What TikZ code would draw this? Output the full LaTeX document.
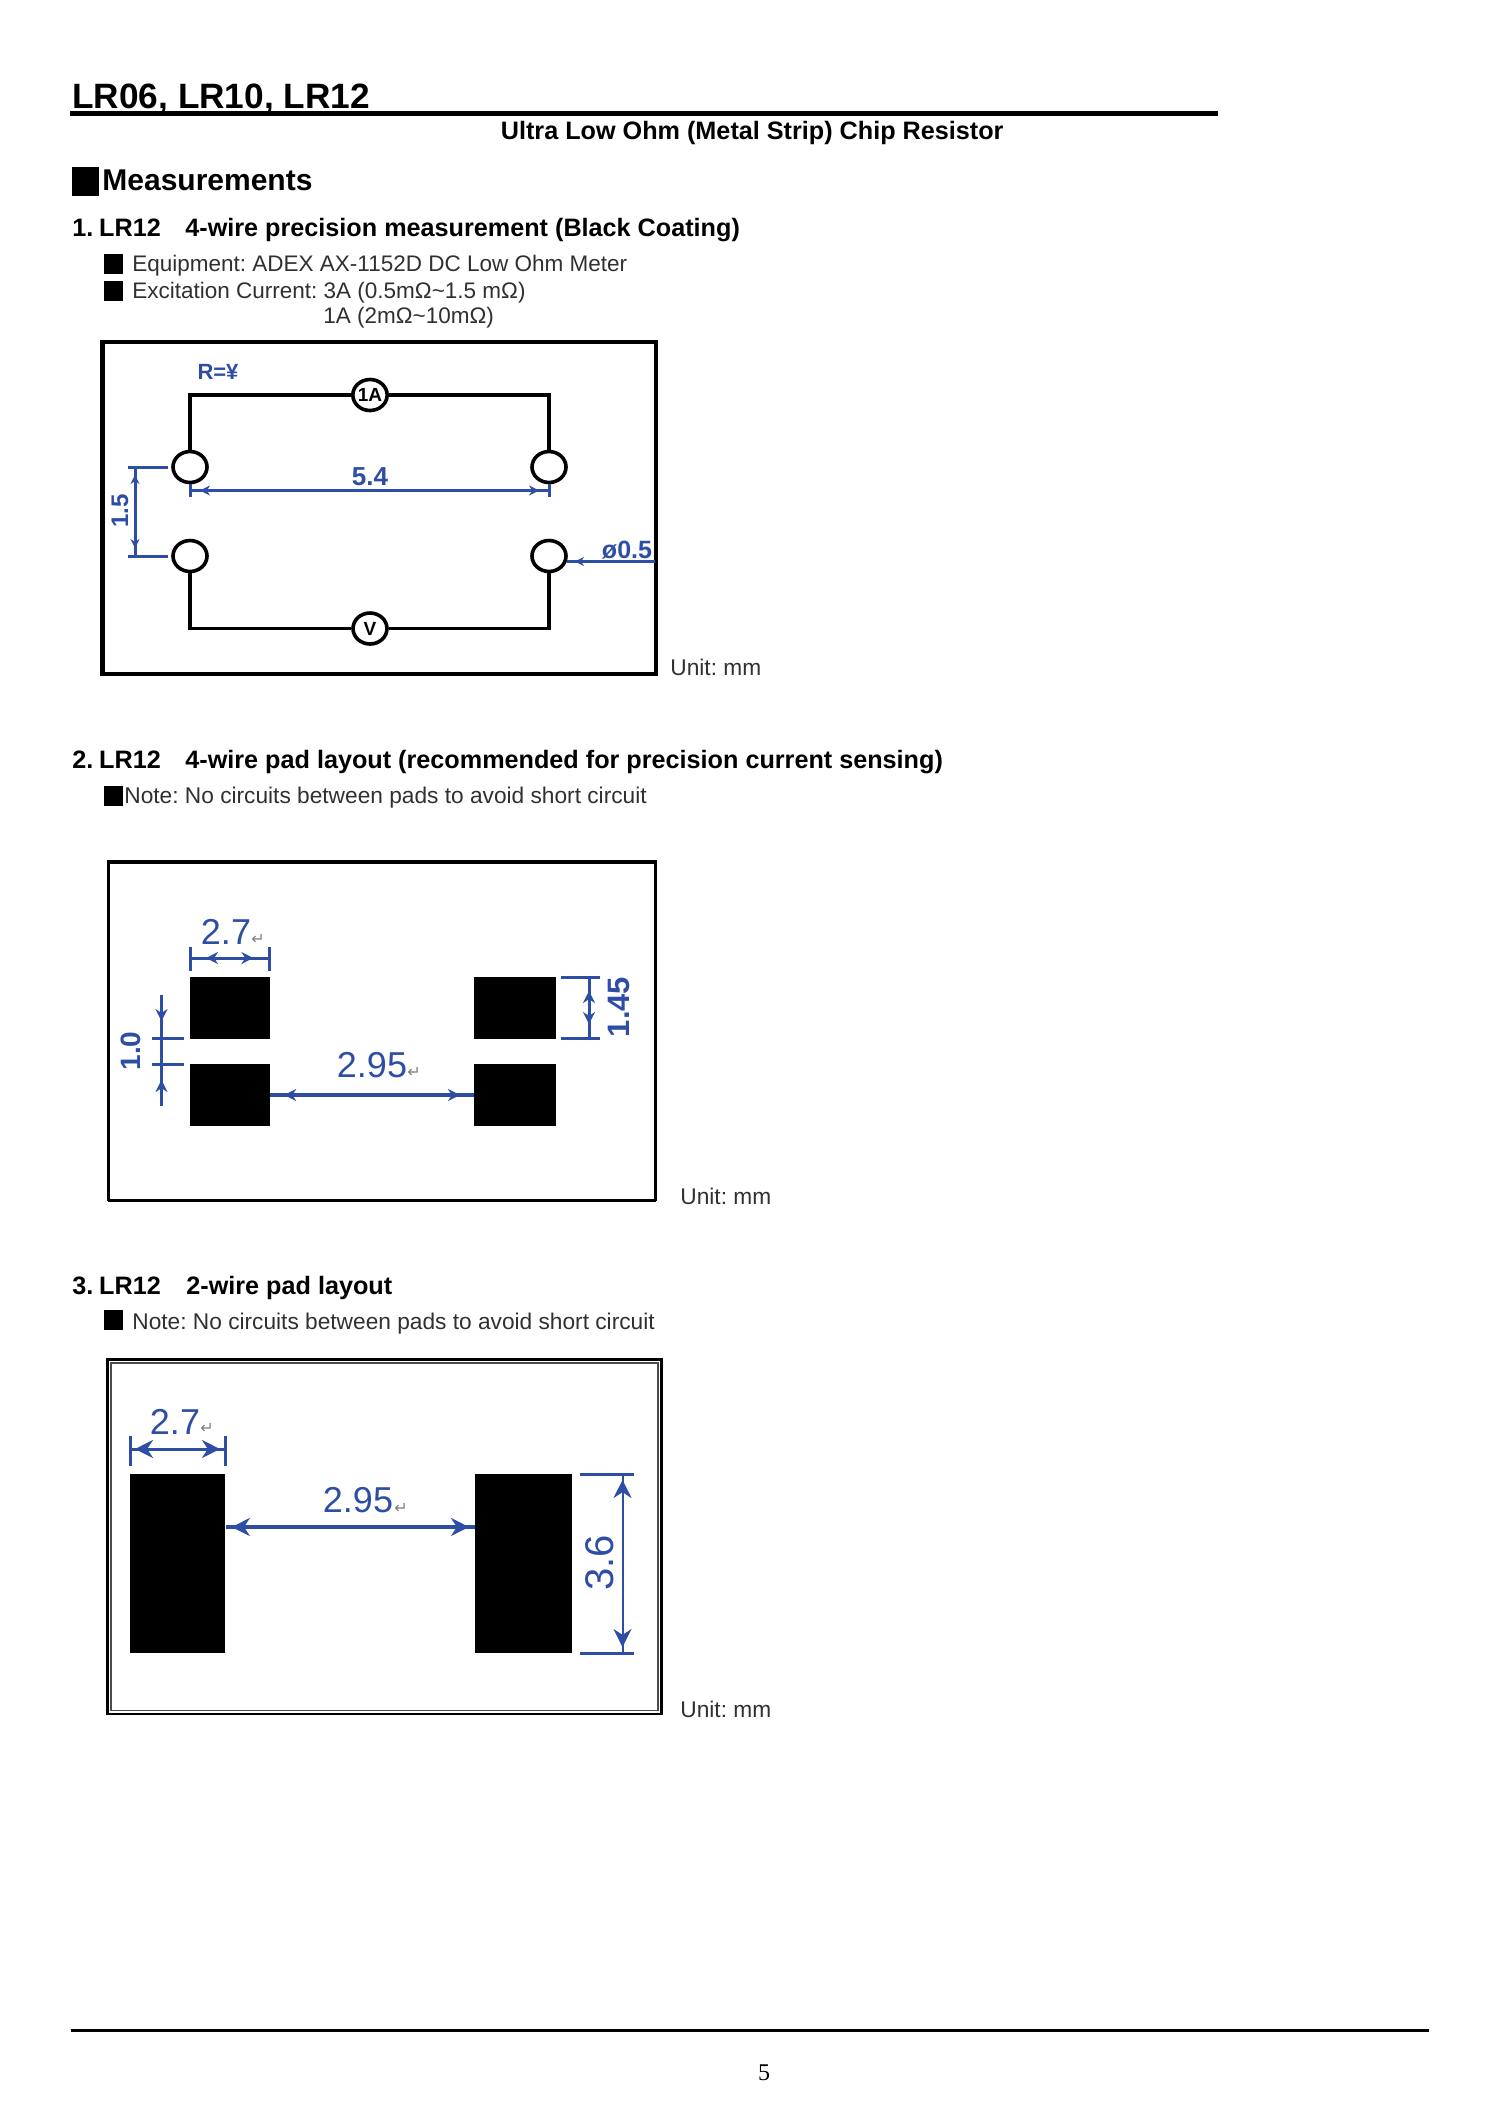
\documentclass[tikz,border=0pt]{standalone}
\usepackage{fontspec}
\setmainfont{Liberation Sans}
\newfontfamily\pagefont{Liberation Serif}
\newfontfamily\retfont{DejaVu Sans}
\usetikzlibrary{arrows.meta,shapes.geometric,decorations.markings}
\definecolor{dimblue}{HTML}{2E4EA6}
\definecolor{bodygray}{HTML}{303030}
\def\fsz#1{\fontsize{#1}{#1}\selectfont}
\frenchspacing
\tikzset{
  txt/.style={inner sep=0pt,anchor=base west},
  body/.style={txt,text=bodygray,font=\fsz{11.25pt}},
  notetxt/.style={body,font=\fsz{11.35pt}},
  unittxt/.style={body,font=\fsz{11.35pt}},
  head/.style={txt,text=black,font=\fsz{12.6pt}\bfseries},
  bullet/.style={fill=black,inner sep=0pt,anchor=north west,minimum width=9.5pt,minimum height=9.7pt},
  pad/.style={fill=black,inner sep=0pt,anchor=north west},
  wire/.style={line width=1.8pt,black},
  port/.style={ellipse,draw=black,line width=1.8pt,fill=white,inner sep=0pt,minimum width=17pt,minimum height=15.5pt},
  meter/.style={port,font=\fsz{9.5pt}\bfseries},
  dimln/.style={line width=1.5pt,dimblue},
  dimbold/.style={text=dimblue,inner sep=0pt,font=\fsz{#1}\bfseries},
  dimthin/.style={text=dimblue,inner sep=0pt,font=\fsz{#1}},
  retmark/.style={text=gray,inner sep=0pt,font=\retfont\fsz{8pt}},
  tipout/.style 2 args={postaction={decorate,decoration={markings,
    mark=at position #1 with {\arrowreversed{Stealth[length=#2,width=#2]}},
    mark=at position -#1 with {\arrow{Stealth[length=#2,width=#2]}}}}},
  tipin/.style 2 args={postaction={decorate,decoration={markings,
    mark=at position #1 with {\arrow{Stealth[length=#2,width=#2]}},
    mark=at position -#1 with {\arrowreversed{Stealth[length=#2,width=#2]}}}}},
}
\begin{document}
\begin{tikzpicture}[x=0.5pt,y=-0.5pt]
  \useasboundingbox[fill=white] (0,0) rectangle (1500,2122);
  % page head
  \node[txt,font=\fsz{17.6pt}\bfseries] (title) at (72,108) {LR06, LR10, LR12};
  \draw[line width=2.5pt] (70,113)--(1218,113);
  \node[head] (subtitle) at (500.5,139.5) {Ultra Low Ohm (Metal Strip) Chip Resistor};
  \node[bullet,minimum width=13.5pt,minimum height=14.7pt] (msq) at (71.5,166.5) {};
  \node[txt,font=\fsz{15pt}\bfseries] (meas) at (102,190.5) {Measurements};
  % 1. four wire measurement
  \node[head] (sec1) at (72,236) {1.\hspace{-.6pt} LR12};
  \node[head] (sec1t) at (185,236) {4-wire precision measurement (Black Coating)};
  \node[bullet] (b1) at (104,254) {};
  \node[body] (b1t) at (132,271) {Equipment: ADEX AX-1152D DC Low Ohm Meter};
  \node[bullet] (b2) at (104,281) {};
  \node[body] (b2t) at (132,298) {Excitation Current: 3A (0.5mΩ\textasciitilde1.5 mΩ)};
  \node[body] (b3t) at (323,323) {1A (2mΩ\textasciitilde10mΩ)};
  \draw[line width=2.4pt] (102.5,342) rectangle (656,674);
  \node[port] (tl) at (190,467) {};
  \node[port] (tr) at (549,467) {};
  \node[port] (bl) at (190,556) {};
  \node[port] (br) at (549,556) {};
  \node[meter] (amp) at (370,395) {1A};
  \node[meter] (volt) at (370,628.5) {V};
  \draw[wire] (tl.north) |- (amp.west) (amp.east) -| (tr.north);
  \draw[wire] (bl.south) |- (volt.west) (volt.east) -| (br.south);
  \node[dimbold=11pt] (rval) at (218,372) {R=¥};
  \node[dimbold=13pt] (w54) at (370,477) {5.4};
  \node[dimbold=12pt,rotate=90] (h15) at (120,511) {1.5};
  \node[dimbold=12.5pt] (dia) at (627,550.5) {ø0.5};
  \coordinate (a54) at (190,490.5);
  \coordinate (b54) at (549,490.5);
  \coordinate (a15) at (135,467);
  \coordinate (b15) at (135,556);
  \coordinate (a05) at (567,561.5);
  \coordinate (b05) at (655,561.5);
  \draw[dimln,tipout={5pt}{5pt}] (a54)--(b54);
  \draw[dimln] (a54)++(0,-6.5)--+(0,13) (b54)++(0,-6.5)--+(0,13);
  \draw[dimln,tipout={4pt}{4.5pt}] (a15)--(b15);
  \draw[dimln] (127.5,467)--(168,467) (127.5,556)--(168,556);
  \draw[dimln] (a05)--(b05);
  \draw[dimblue,-{Stealth[length=4.5pt,width=4.5pt]},line width=1.5pt] (583,561.5)--(575,561.5);
  \node[unittxt] (unit1) at (670,675) {Unit: mm};
  % 2. four wire pads
  \node[head] (sec2) at (72,768) {2.\hspace{-.6pt} LR12};
  \node[head] (sec2t) at (185,768) {4-wire pad layout (recommended for precision current sensing)};
  \node[bullet,minimum height=9.8pt] (b4) at (104,786) {};
  \node[notetxt] (b4t) at (124,803) {Note: No circuits between pads to avoid short circuit};
  \draw[line width=1.5pt] (108,862)--(108,1200.5) (108,1200.5)--(655.5,1200.5) (655.5,1200.5)--(655.5,862);
  \draw[line width=2pt] (107,862)--(656.5,862);
  \node[pad,minimum width=39.7pt,minimum height=30.6pt] (p1) at (190,977) {};
  \node[pad,minimum width=41pt,minimum height=30.6pt] (p2) at (474,977) {};
  \node[pad,minimum width=39.7pt,minimum height=30.6pt] (p3) at (190,1064) {};
  \node[pad,minimum width=41pt,minimum height=30.6pt] (p4) at (474,1064) {};
  \node[dimthin=18pt] (w27) at (226,932) {2.7};
  \node[retmark] (r27) at (258,939) {↵};
  \node[dimthin=18pt] (w295) at (372,1065) {2.95};
  \node[retmark] (r295) at (414,1072) {↵};
  \node[dimbold=14pt,rotate=90] (h10) at (131,1051) {1.0};
  \node[dimbold=15.5pt,rotate=90] (h145) at (619,1007) {1.45};
  \coordinate (a27) at (190,958);
  \coordinate (b27) at (269.4,958);
  \coordinate (a10) at (161.5,995);
  \coordinate (b10) at (161.5,1106);
  \coordinate (a145) at (589,977);
  \coordinate (b145) at (589,1038);
  \draw[dimln,tipout={8pt}{6pt}] (a27)--(b27);
  \draw[dimln] (a27)++(0,-11)--+(0,24) (b27)++(0,-11)--+(0,24);
  \draw[dimln,tipin={13pt}{6pt}] (a10)--(b10);
  \draw[dimln] (152,1038)--(184,1038) (152,1064)--(184,1064);
  \draw[dimln,line width=1.8pt,tipout={7pt}{6pt}] (p3.east)--(p4.west);
  \draw[dimln,tipout={7pt}{6pt}] (a145)--(b145);
  \draw[dimln] (561,977)--(599.5,977) (561,1038)--(599.5,1038);
  \node[unittxt] (unit2) at (680,1204) {Unit: mm};
  % 3. two wire pads
  \node[head] (sec3) at (72,1294) {3.\hspace{-.6pt} LR12};
  \node[head] (sec3t) at (186,1294) {2-wire pad layout};
  \node[bullet] (b5) at (104,1310) {};
  \node[notetxt] (b5t) at (132,1329) {Note: No circuits between pads to avoid short circuit};
  \draw[line width=1.1pt] (107.5,1359.5) rectangle (661.5,1714);
  \draw[line width=0.7pt,black!70] (111,1363) rectangle (658,1710.5);
  \node[pad,minimum width=47.5pt,minimum height=89.5pt] (p5) at (130,1474) {};
  \node[pad,minimum width=48.5pt,minimum height=89.5pt] (p6) at (475,1474) {};
  \node[dimthin=18pt] (w27b) at (175,1422) {2.7};
  \node[retmark] (r27b) at (207,1428) {↵};
  \node[dimthin=18pt] (w295b) at (358,1500) {2.95};
  \node[retmark] (r295b) at (401,1508) {↵};
  \node[dimthin=20pt,rotate=90] (h36) at (600,1563) {3.6};
  \coordinate (a27b) at (130,1449);
  \coordinate (b27b) at (225,1449);
  \coordinate (a36) at (622.5,1474);
  \coordinate (b36) at (622.5,1653);
  \draw[dimln,tipout={2.5pt}{9pt}] (a27b)--(b27b);
  \draw[dimln] (130,1436)--(130,1466) (225,1436)--(225,1466);
  \draw[dimln,line width=1.8pt,tipout={3pt}{9pt}] (p5.east|-0,1527)--(p6.west|-0,1527);
  \draw[dimln,line width=1pt,tipout={3pt}{9pt}] (a36)--(b36);
  \draw[dimln] (580,1474)--(634,1474) (580,1653)--(634,1653);
  \node[unittxt] (unit3) at (680,1717.5) {Unit: mm};
  % page foot
  \draw[line width=1.5pt] (70.5,2030)--(1428.5,2030);
  \node[inner sep=0pt,font=\pagefont\fsz{12pt}] (pageno) at (764,2073) {5};
\end{tikzpicture}
\end{document}
